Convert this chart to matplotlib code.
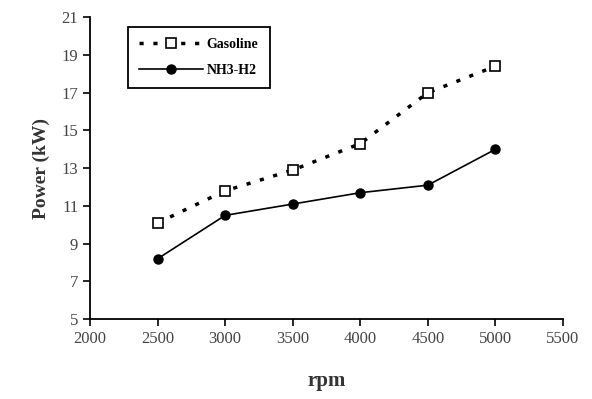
import matplotlib
matplotlib.use('Agg')
import matplotlib.pyplot as plt

rpm = [2500, 3000, 3500, 4000, 4500, 5000]
gasoline = [10.1, 11.8, 12.9, 14.3, 17.0, 18.4]
nh3_h2 = [8.2, 10.5, 11.1, 11.7, 12.1, 14.0]

plt.rcParams['font.family'] = ['Liberation Serif', 'DejaVu Serif']

fig = plt.figure(figsize=(5.92, 3.99), dpi=100)
ax = fig.add_axes([0.152, 0.2, 0.799, 0.757])

ax.plot(rpm, gasoline, color='black', linestyle=(0, (1.2, 2.8)), linewidth=2.5,
        marker='s', markersize=6.5, markerfacecolor='white', markeredgecolor='black',
        markeredgewidth=1.2, label='Gasoline')
ax.plot(rpm, nh3_h2, color='black', linestyle='-', linewidth=1.2,
        marker='o', markersize=6.5, markerfacecolor='black', label='NH3-H2')

ax.set_xlim(2000, 5500)
ax.set_ylim(5, 21)
ax.set_xticks(range(2000, 5501, 500))
ax.set_yticks(range(5, 22, 2))
ax.tick_params(axis='both', labelsize=12, labelcolor='#444444', direction='out',
               length=5, width=1.2)
ax.spines['top'].set_visible(False)
ax.spines['right'].set_visible(False)
ax.spines['left'].set_linewidth(1.3)
ax.spines['bottom'].set_linewidth(1.3)

ax.set_xlabel('rpm', fontsize=15, fontweight='bold', labelpad=17, color='#333333')
ax.set_ylabel('Power (kW)', fontsize=14, fontweight='bold', labelpad=8, color='#333333')

leg = ax.legend(loc='upper left', bbox_to_anchor=(0.065, 0.99),
                fancybox=False, edgecolor='black', framealpha=1,
                prop={'weight': 'bold', 'size': 10}, handlelength=4.6,
                borderpad=0.8, labelspacing=0.9, handletextpad=0.3)
leg.get_frame().set_linewidth(1.3)

plt.savefig('out.png')
plt.close()
